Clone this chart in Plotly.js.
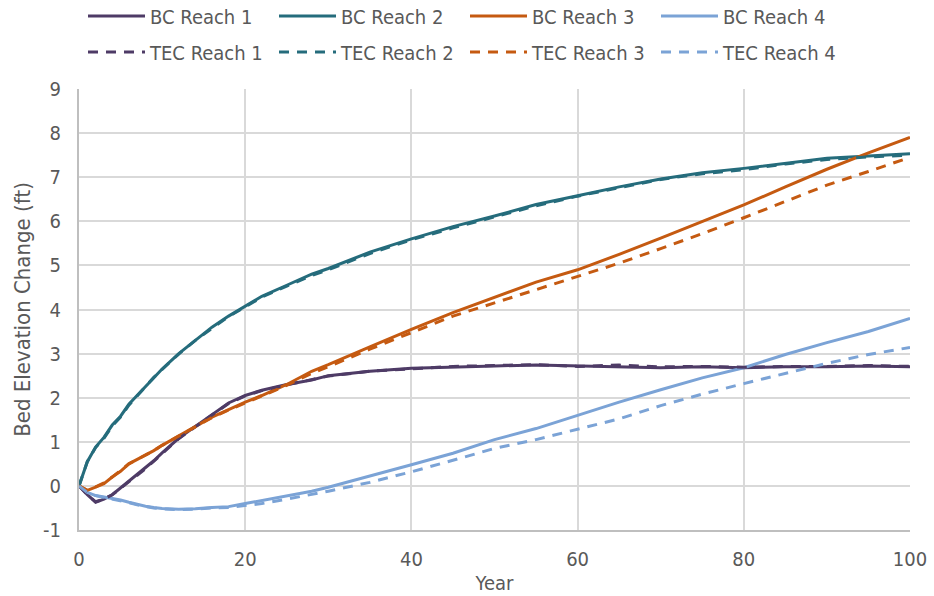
<!DOCTYPE html>
<html>
<head>
<meta charset="utf-8">
<script src="https://cdn.plot.ly/plotly-3.0.1.min.js"></script>
<style>html,body{margin:0;padding:0;background:#fff;}#chart{width:934px;height:596px;}</style>
</head>
<body>
<div id="chart"></div>
<script>
const years = [0,1,2,3,4,5,6,7,8,9,10,12,14,16,18,20,22,25,28,30,35,40,45,50,55,60,65,70,75,80,85,90,95,100];

const bcReach1 = [0,-0.2,-0.37,-0.3,-0.2,-0.05,0.1,0.25,0.4,0.57,0.75,1.08,1.35,1.62,1.88,2.05,2.17,2.3,2.4,2.5,2.6,2.67,2.7,2.72,2.74,2.72,2.7,2.68,2.7,2.68,2.7,2.7,2.72,2.7];
const bcReach2 = [0,0.55,0.88,1.1,1.38,1.58,1.85,2.05,2.27,2.47,2.65,3.0,3.3,3.6,3.85,4.08,4.3,4.55,4.8,4.93,5.3,5.6,5.88,6.12,6.38,6.58,6.78,6.96,7.1,7.2,7.32,7.43,7.48,7.53];
const bcReach3 = [0,-0.1,-0.03,0.05,0.2,0.33,0.5,0.6,0.7,0.8,0.92,1.13,1.35,1.56,1.73,1.9,2.05,2.3,2.6,2.75,3.15,3.55,3.93,4.28,4.62,4.9,5.25,5.62,6.0,6.37,6.78,7.18,7.55,7.9];
const bcReach4 = [0,-0.15,-0.22,-0.25,-0.28,-0.32,-0.37,-0.42,-0.46,-0.49,-0.51,-0.53,-0.52,-0.49,-0.47,-0.4,-0.33,-0.24,-0.12,-0.03,0.22,0.48,0.74,1.05,1.3,1.6,1.9,2.18,2.45,2.68,2.98,3.25,3.5,3.8];

const tecReach1 = [0,-0.2,-0.36,-0.3,-0.2,-0.06,0.09,0.24,0.39,0.56,0.74,1.07,1.34,1.61,1.87,2.04,2.16,2.29,2.4,2.49,2.6,2.66,2.71,2.73,2.75,2.71,2.74,2.7,2.71,2.69,2.71,2.71,2.73,2.71];
const tecReach2 = [0,0.55,0.87,1.08,1.36,1.56,1.83,2.04,2.26,2.46,2.64,2.99,3.3,3.58,3.84,4.06,4.28,4.53,4.77,4.9,5.27,5.58,5.85,6.1,6.35,6.57,6.76,6.95,7.08,7.17,7.3,7.4,7.46,7.5];
const tecReach3 = [0,-0.1,-0.02,0.07,0.2,0.35,0.5,0.6,0.7,0.8,0.92,1.13,1.35,1.55,1.72,1.88,2.03,2.28,2.55,2.7,3.1,3.48,3.85,4.15,4.45,4.75,5.05,5.38,5.72,6.08,6.45,6.82,7.13,7.45];
const tecReach4 = [0,-0.15,-0.22,-0.26,-0.29,-0.33,-0.38,-0.43,-0.47,-0.5,-0.52,-0.54,-0.53,-0.5,-0.49,-0.45,-0.4,-0.3,-0.2,-0.12,0.08,0.32,0.58,0.85,1.05,1.28,1.52,1.82,2.08,2.32,2.55,2.78,2.98,3.14];

const yTickVals = [-1,0,1,2,3,4,5,6,7,8,9];
const yTickText = ['-1','0','1','2','3','4','5','6','7','8','9'];

const names = ['BC Reach 1','BC Reach 2','BC Reach 3','BC Reach 4','TEC Reach 1','TEC Reach 2','TEC Reach 3','TEC Reach 4'];
const colors = ['#4E3B66','#256C7C','#C55A11','#7BA3D6'];

const series = [bcReach1,bcReach2,bcReach3,bcReach4,tecReach1,tecReach2,tecReach3,tecReach4];
const traces = series.map((ys,i)=>({
  x: years, y: ys, type:'scatter', mode:'lines', name: names[i],
  line:{color: colors[i%4], width:3, dash: i<4 ? 'solid' : '10px,8px'},
  legend: i<4 ? 'legend' : 'legend2',
  hoverinfo:'skip'
}));

const FONT = 'DejaVu Sans Condensed, DejaVu Sans, sans-serif';
const legendBase = {
  orientation:'h', xref:'container', yref:'container', xanchor:'left', yanchor:'middle',
  x: 83/934, font:{family:FONT, size:20, color:'#595959'},
  entrywidth:119, entrywidthmode:'pixels', itemwidth:57, bgcolor:'rgba(0,0,0,0)', traceorder:'normal'
};

const layout = {
  width:934, height:596,
  margin:{l:79, r:24, t:89, b:66},
  paper_bgcolor:'#fff', plot_bgcolor:'#fff',
  font:{family:FONT, size:20, color:'#595959'},
  showlegend:true,
  legend: Object.assign({}, legendBase, {y: 1-16/596}),
  legend2: Object.assign({}, legendBase, {y: 1-52/596}),
  xaxis:{
    range:[0,100], dtick:20, tick0:0, showgrid:true, gridcolor:'#d9d9d9', gridwidth:2,
    zeroline:false, showline:true, linecolor:'#bfbfbf', linewidth:2, ticks:'',
    ticklabelstandoff:10, tickfont:{family:FONT, size:20, color:'#595959'},
    title:{text:'Year', font:{family:FONT, size:20, color:'#595959'}, standoff:6}
  },
  yaxis:{
    range:[-1,9], tickmode:'array', tickvals:yTickVals, ticktext:yTickText,
    showgrid:true, gridcolor:'#d9d9d9', gridwidth:2,
    zeroline:false, showline:true, linecolor:'#bfbfbf', linewidth:2, ticks:'',
    ticklabelstandoff:12, tickfont:{family:FONT, size:20, color:'#595959'},
    title:{text:'Bed Elevation Change (ft)', font:{family:FONT, size:22, color:'#595959'}, standoff:6}
  }
};

Plotly.newPlot('chart', traces, layout, {displayModeBar:false, staticPlot:true});
</script>
</body>
</html>
